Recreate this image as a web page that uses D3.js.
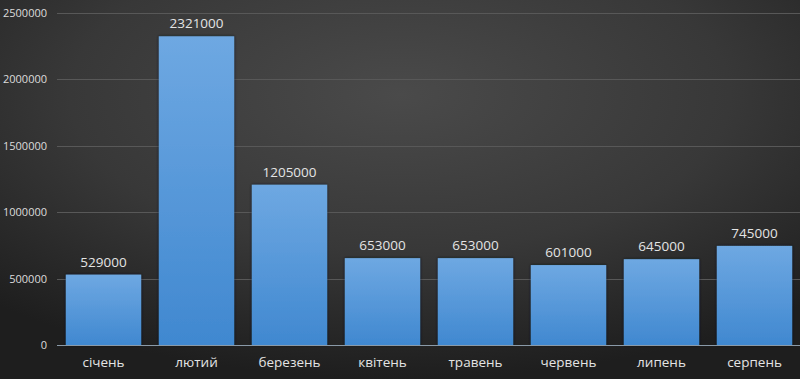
<!DOCTYPE html>
<html><head><meta charset="utf-8">
<script src="https://cdn.jsdelivr.net/npm/d3@7"></script>
<style>html,body{margin:0;padding:0;background:#2a2a2a;overflow:hidden}</style>
</head><body>
<svg id="c" width="800" height="379"></svg>
<script>
const categories = ["січень","лютий","березень","квітень","травень","червень","липень","серпень"];
const values = [529000, 2321000, 1205000, 653000, 653000, 601000, 645000, 745000];
const yTicks = [0, 500000, 1000000, 1500000, 2000000, 2500000];

const W = 800, H = 379;
const svg = d3.select("#c");
const defs = svg.append("defs");
const bg = defs.append("radialGradient").attr("id","bg")
  .attr("cx","50%").attr("cy","25%").attr("r","75%");
bg.append("stop").attr("offset","0%").attr("stop-color","#4a4a4a");
bg.append("stop").attr("offset","55%").attr("stop-color","#383838");
bg.append("stop").attr("offset","100%").attr("stop-color","#1e1e1e");
const bar = defs.append("linearGradient").attr("id","bar").attr("x1",0).attr("y1",0).attr("x2",0).attr("y2",1);
bar.append("stop").attr("offset","0%").attr("stop-color","#6ea8e2");
bar.append("stop").attr("offset","100%").attr("stop-color","#4088d0");
const sh = defs.append("filter").attr("id","sh").attr("x","-10%").attr("y","-10%").attr("width","120%").attr("height","120%");
sh.append("feDropShadow").attr("dx",0).attr("dy",0).attr("stdDeviation",1.5).attr("flood-color","#0a1420").attr("flood-opacity",0.8);

svg.append("rect").attr("width",W).attr("height",H).attr("fill","url(#bg)");

const x = d3.scaleBand().domain(categories).range([57, 801]).paddingInner(0.19).paddingOuter(0.095);
const y = d3.scaleLinear().domain([0, 2500000]).range([345, 12.5]);

// gridlines
svg.append("g").selectAll("line").data(yTicks.filter(d=>d>0)).join("line")
  .attr("x1",57).attr("x2",W).attr("y1",d=>Math.round(y(d))+0.5).attr("y2",d=>Math.round(y(d))+0.5)
  .attr("stroke","#585858").attr("stroke-width",1);

// y axis labels
const yAxis = d3.axisLeft(y).tickValues(yTicks).tickSize(0).tickPadding(0).tickFormat(d3.format("d"));
const ga = svg.append("g").attr("transform","translate(47,0)").call(yAxis);
ga.select(".domain").remove();
ga.selectAll("text").attr("fill","#dcdcdc").style("font-family","'Open Sans', sans-serif").style("font-size","11px");

// bars
svg.append("g").selectAll("rect").data(values).join("rect")
  .attr("x",(d,i)=>x(categories[i])).attr("width",x.bandwidth())
  .attr("y",d=>y(d)).attr("height",d=>y(0)-y(d))
  .attr("fill","url(#bar)").attr("filter","url(#sh)");

// baseline
svg.append("line").attr("x1",57).attr("x2",W).attr("y1",y(0)+0.5).attr("y2",y(0)+0.5)
  .attr("stroke","#8a9aa8").attr("stroke-width",1.2);

// value labels
svg.append("g").selectAll("text").data(values).join("text")
  .attr("x",(d,i)=>x(categories[i])+x.bandwidth()/2).attr("y",d=>y(d)-8)
  .attr("text-anchor","middle").attr("fill","#e4e4e4")
  .style("font-family","'Open Sans', sans-serif").style("font-size","13.5px")
  .text(d=>d);

// category axis
const xAxis = d3.axisBottom(x).tickSize(0).tickPadding(0);
const gx = svg.append("g").attr("transform","translate(0,357)").call(xAxis);
gx.select(".domain").remove();
gx.selectAll("text").attr("fill","#e4e4e4").style("font-family","'Open Sans', sans-serif").style("font-size","13.5px");
</script>
</body></html>
